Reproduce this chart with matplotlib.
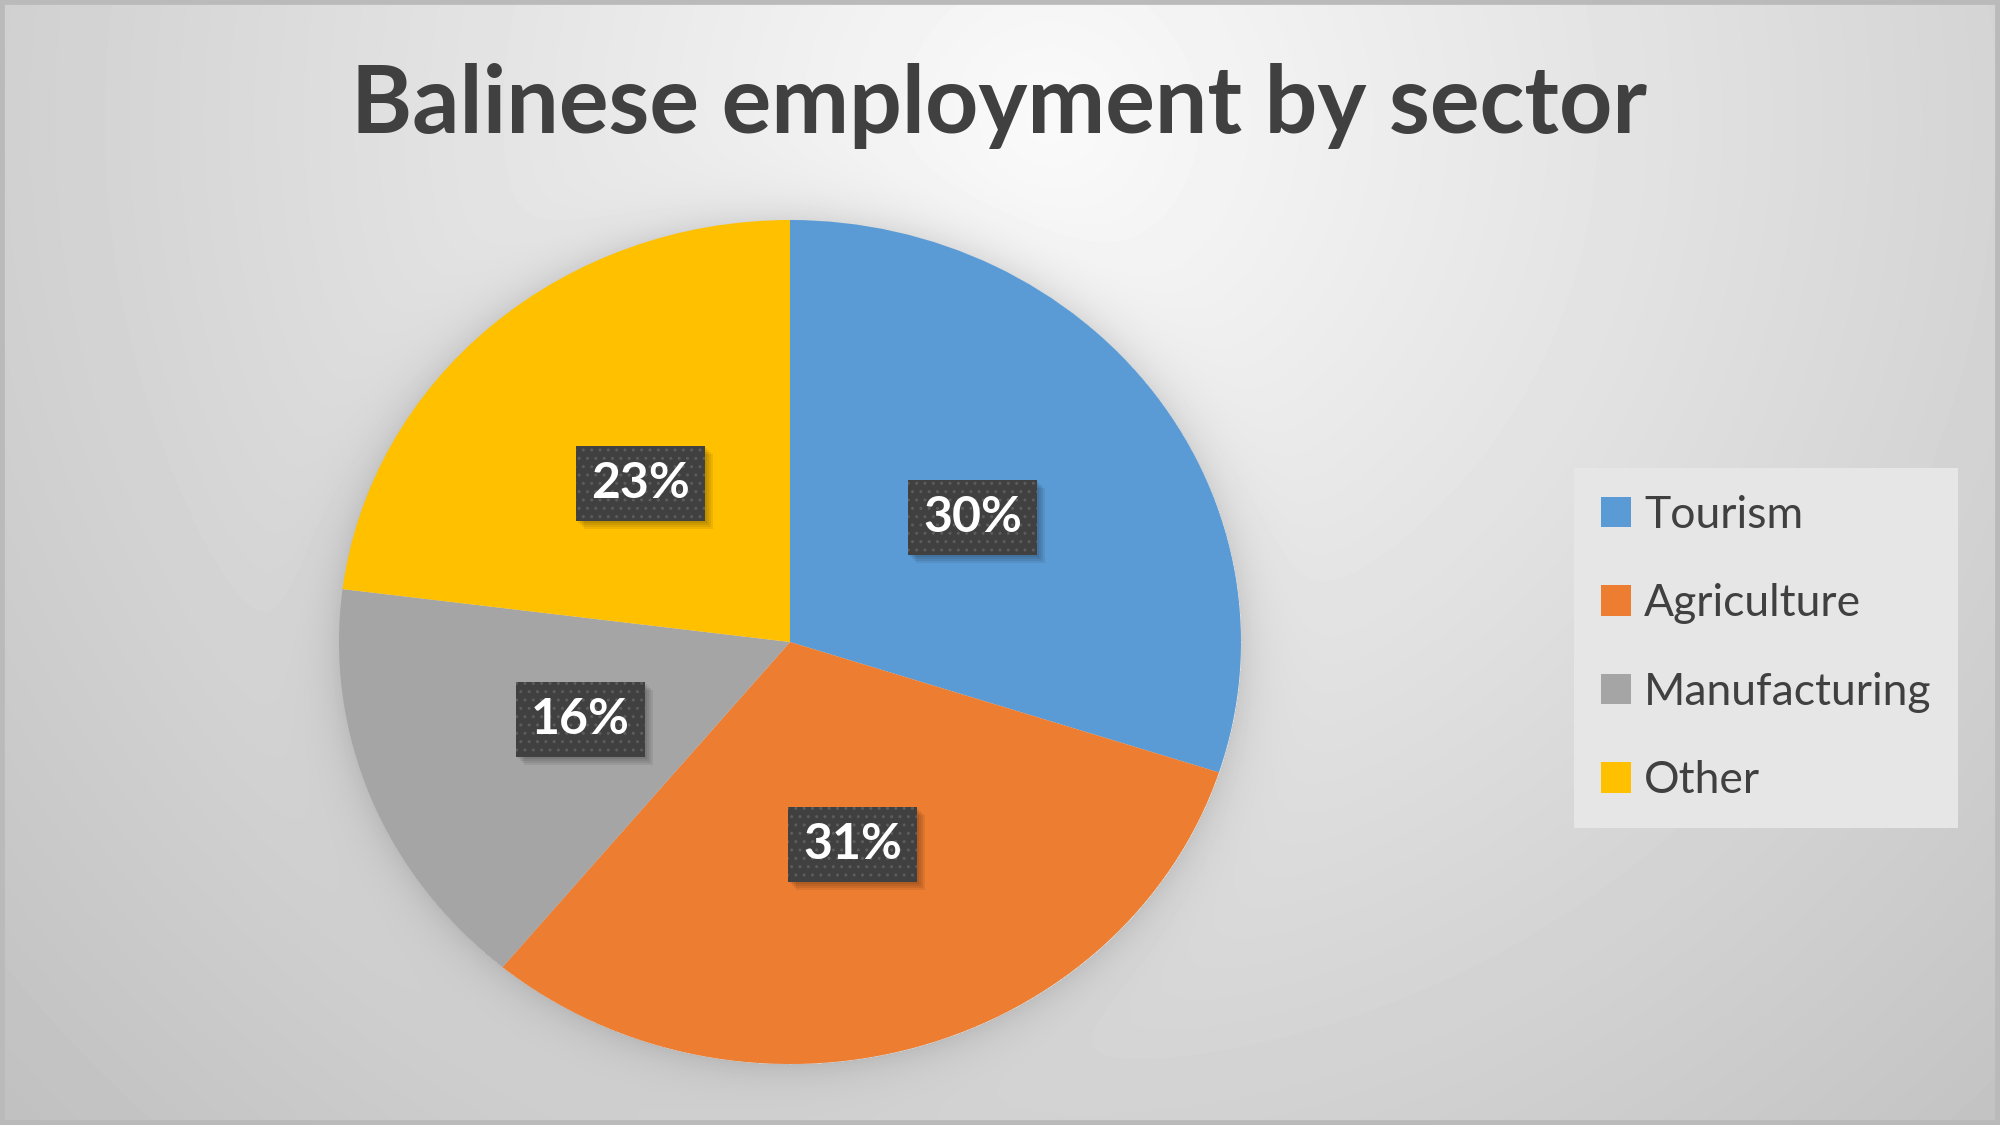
import matplotlib
matplotlib.use("Agg")
import matplotlib.pyplot as plt
from matplotlib.patches import Patch, Rectangle
from matplotlib.transforms import IdentityTransform
import numpy as np

# ── data ──────────────────────────────────────────────
sectors = ["Tourism", "Agriculture", "Manufacturing", "Other"]
shares = [30, 31, 16, 23]
colors = ["#5B9BD5", "#ED7D31", "#A5A5A5", "#FFC000"]
title = "Balinese employment by sector"

W, H = 2000, 1125
FONT = ["Lato", "DejaVu Sans"]
TXT = "#404040"

fig = plt.figure(figsize=(W / 100, H / 100), dpi=100)

# pie geometry in pixels (slightly elliptical, like the original)
cx, cy, rx, ry = 790, 642, 451, 422

# ── background: radial grey gradient + soft shadow round the pie ──
bg = fig.add_axes([0, 0, 1, 1], zorder=0)
yy, xx = np.mgrid[0:H, 0:W]
val = 250 - 0.04 * np.hypot(xx - 1050, yy - 120)
r = np.hypot((xx - cx) / rx, (yy - cy) / ry)
outside = np.clip(r - 1, 0, None) * rx
val = val - 24 * np.exp(-outside / 22) * (r > 1)
bg.imshow(np.clip(val, 0, 255) / 255, cmap="gray", vmin=0, vmax=1,
          aspect="auto", interpolation="bilinear")
bg.axis("off")
fig.patches.append(Rectangle((0, 0), 1, 1, transform=fig.transFigure,
                             fill=False, edgecolor="#bababa", lw=7, zorder=1))

# ── pie ──────────────────────────────────────────────
ax = fig.add_axes([(cx - rx) / W, (H - cy - ry) / H, 2 * rx / W, 2 * ry / H],
                  zorder=2)
wedges, _, autotexts = ax.pie(
    shares, colors=colors, startangle=90, counterclock=False,
    autopct="%1.0f%%", pctdistance=0.5,
    wedgeprops=dict(linewidth=0),
    textprops=dict(color="white", fontsize=36, fontweight="bold", family=FONT),
)
ax.set_aspect("auto")
ax.set_xlim(-1, 1)
ax.set_ylim(-1, 1)
ax.axis("off")

for t in autotexts:
    t.set_zorder(3)
    t.set_bbox(dict(boxstyle="square,pad=0.3", facecolor="#404040",
                    edgecolor="#5c5c5c", linewidth=0, hatch=".."))

# ── title ────────────────────────────────────────────
fig.text(999 / W, 1 - 106 / H, title, ha="center", va="center",
         fontsize=67, fontweight="bold", color=TXT, family=FONT)

# ── legend ───────────────────────────────────────────
handles = [Patch(facecolor=c, edgecolor="none") for c in colors]
leg = fig.legend(handles, sectors, loc="upper left",
                 bbox_to_anchor=(1574 / W, 1 - 468 / H), borderaxespad=0,
                 handlelength=0.68, handleheight=0.68,
                 handletextpad=0.3, labelspacing=1.07, borderpad=0.6,
                 frameon=True, fancybox=False, prop=dict(family=FONT, size=32))
leg.get_frame().set_facecolor("#e6e6e6")
leg.get_frame().set_edgecolor("none")
leg.get_frame().set_alpha(1)
for txt in leg.get_texts():
    txt.set_color(TXT)

# soft drop shadow behind each label box (faint offset copies of its extent)
fig.canvas.draw()
for t in autotexts:
    bb = t.get_bbox_patch().get_window_extent()
    for o in (2, 4, 6, 8):
        ax.add_patch(Rectangle((bb.x0 + o, bb.y0 - o), bb.width, bb.height,
                               transform=IdentityTransform(), facecolor="black",
                               edgecolor="none", alpha=0.07, zorder=2.5,
                               clip_on=False))

fig.savefig("out.png", dpi=100)
